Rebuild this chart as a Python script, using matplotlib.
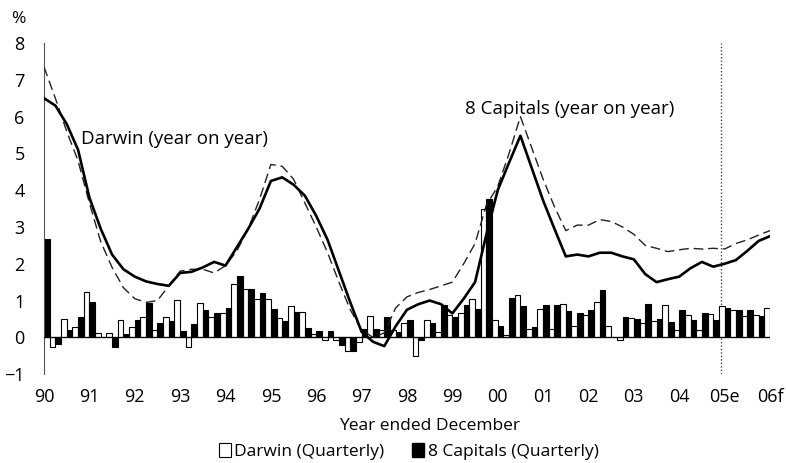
import numpy as np
import matplotlib.pyplot as plt
from matplotlib.patches import Patch

plt.rcParams['font.family'] = ['Open Sans', 'DejaVu Sans']

# quarterly, Mar-90 .. Dec-06 (65 quarters)
darwin_q = [0.40, -0.27, 0.49, 0.27, 1.23, 0.11, 0.11, 0.47, 0.27, 0.56,
            0.20, 0.56, 1.02, -0.27, 0.92, 0.55, 0.65, 1.44, 1.32, 1.05,
            1.03, 0.53, 0.85, 0.68, 0.08, -0.06, -0.07, -0.38, -0.12, 0.58,
            0.20, 0.20, 0.40, -0.52, 0.48, 0.15, 0.62, 0.66, 1.05, 3.48,
            0.46, 0.07, 1.16, 0.23, 0.76, 0.23, 0.90, 0.30, 0.60, 0.97,
            0.31, -0.07, 0.52, 0.38, 0.45, 0.88, 0.20, 0.61, 0.20, 0.63,
            0.84, 0.73, 0.58, 0.61, 0.81]
capitals_q = [2.68, -0.18, 0.20, 0.56, 0.95, 0.02, -0.27, 0.09, 0.47, 0.93,
              0.38, 0.45, 0.18, 0.36, 0.74, 0.65, 0.81, 1.68, 1.31, 1.20,
              0.77, 0.44, 0.68, 0.25, 0.18, 0.18, -0.21, -0.37, 0.22, 0.22,
              0.56, 0.15, 0.47, -0.08, 0.40, 0.87, 0.56, 0.87, 0.78, 3.75,
              0.30, 1.06, 0.84, 0.28, 0.89, 0.88, 0.72, 0.65, 0.73, 1.30,
              0.02, 0.56, 0.49, 0.91, 0.49, 0.43, 0.75, 0.47, 0.67, 0.47,
              0.81, 0.73, 0.75, 0.58, 0.70]
darwin_yoy = [6.50, 6.30, 5.80, 5.10, 3.80, 2.95, 2.25, 1.85, 1.65, 1.52,
              1.45, 1.40, 1.75, 1.78, 1.90, 2.05, 1.95, 2.45, 2.95, 3.50,
              4.25, 4.35, 4.15, 3.85, 3.30, 2.65, 1.80, 0.95, 0.15, -0.12,
              -0.24, 0.30, 0.75, 0.90, 1.00, 0.90, 0.65, 1.05, 1.50, 2.80,
              4.00, 4.75, 5.48, 4.60, 3.72, 2.95, 2.20, 2.25, 2.20, 2.30,
              2.30, 2.20, 2.12, 1.72, 1.50, 1.58, 1.65, 1.88, 2.05, 1.92,
              2.00, 2.10, 2.35, 2.62, 2.75]
capitals_yoy = [7.35, 6.50, 5.60, 4.80, 3.65, 2.60, 1.90, 1.35, 1.05, 0.95,
                1.00, 1.40, 1.80, 1.85, 1.85, 1.75, 1.95, 2.35, 2.95, 3.75,
                4.70, 4.65, 4.30, 3.65, 3.00, 2.30, 1.50, 0.75, 0.20, 0.00,
                0.12, 0.80, 1.10, 1.22, 1.30, 1.40, 1.50, 2.00, 2.55, 3.60,
                4.10, 5.00, 6.00, 5.15, 4.30, 3.55, 2.90, 3.05, 3.05, 3.20,
                3.15, 3.00, 2.80, 2.50, 2.42, 2.33, 2.38, 2.42, 2.40, 2.42,
                2.40, 2.55, 2.65, 2.78, 2.90]
year_labels = ['90', '91', '92', '93', '94', '95', '96', '97', '98', '99',
               '00', '01', '02', '03', '04', '05e', '06f']

q = np.arange(len(darwin_q))

fig = plt.figure(figsize=(7.86, 4.63), dpi=100)
ax = fig.add_axes([0.056, 0.192, 0.9236, 0.715])

ax.bar(q - 0.25, darwin_q, width=0.5, color='white', edgecolor='black', linewidth=0.8, zorder=2)
ax.bar(q + 0.25, capitals_q, width=0.5, color='black', edgecolor='black', linewidth=0.8, zorder=2)
ax.plot(q, capitals_yoy, color='#222222', lw=1.0, ls=(0, (7, 3.5)), zorder=3)
ax.plot(q, darwin_yoy, color='black', lw=1.9, zorder=4)
ax.axhline(0, color='black', lw=0.9, zorder=3)
ax.axvline(59.7, color='#444444', lw=1.0, ls=(0, (1, 1.5)), zorder=1)

ax.text(3.3, 5.4, 'Darwin (year on year)', fontsize=13.5, va='center')
ax.text(37.1, 6.2, '8 Capitals (year on year)', fontsize=13.5, va='center')

ax.set_xlim(0, 64)
ax.set_ylim(-1, 8)
ax.set_yticks(range(-1, 9))
ax.set_xticks(q[::4])
ax.set_xticklabels(year_labels)
ax.tick_params(length=0, labelsize=13)
ax.tick_params(axis='y', pad=14)
ax.tick_params(axis='x', pad=10)
for s in ['top', 'right', 'bottom']:
    ax.spines[s].set_visible(False)
ax.spines['left'].set_color('#555555')

fig.text(0.023, 0.96, '%', fontsize=12.5, ha='center', va='center')
fig.text(0.546, 0.08, 'Year ended December', fontsize=12.5, ha='center', va='center')

handles = [Patch(facecolor='white', edgecolor='black', lw=0.8),
           Patch(facecolor='black', edgecolor='black')]
fig.legend(handles, ['Darwin (Quarterly)', '8 Capitals (Quarterly)'],
           loc='center', bbox_to_anchor=(0.52, 0.025), ncol=2, frameon=False,
           fontsize=12.5, handlelength=0.7, handleheight=0.9, handletextpad=0.2,
           columnspacing=1.6, borderpad=0)

fig.savefig('out.png', dpi=100)
